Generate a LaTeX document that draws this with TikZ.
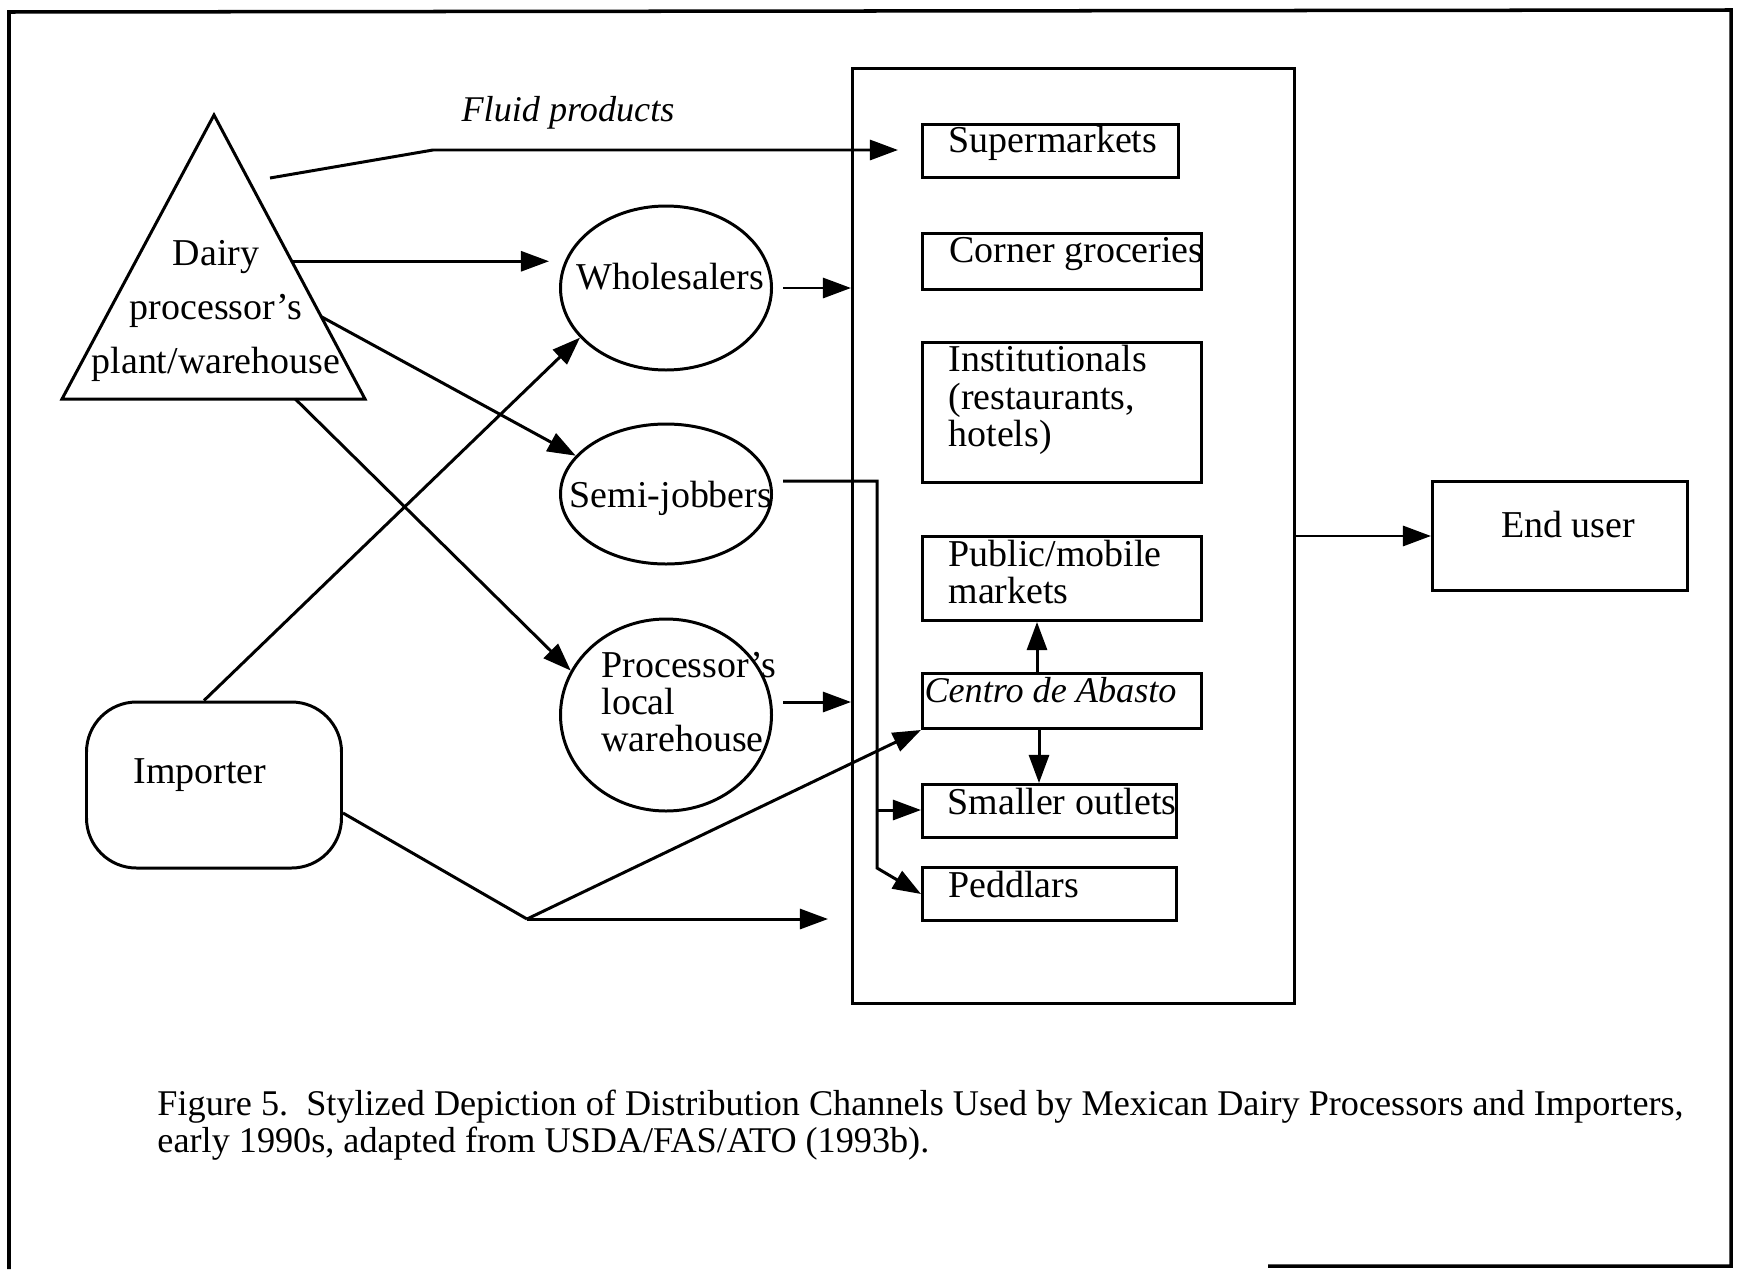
\documentclass[tikz,border=0pt]{standalone}
\usepackage{fontspec}
\setmainfont{Liberation Serif}
\usepackage{tikz}
\usetikzlibrary{shapes.geometric,calc,arrows.meta}
\newcommand{\lw}{0.85pt}
\newcommand{\fsz}{\fontsize{10.8}{10.6}\selectfont}
\newcommand{\fit}{\fontsize{10.3}{10.6}\selectfont\itshape}

\begin{document}
\begin{tikzpicture}[x=0.1mm,y=-0.1mm,line width=\lw,font=\fsz,
  box/.style={draw,rectangle,inner sep=0pt,anchor=north west},
  oval/.style={draw,ellipse,inner sep=0pt},
  txt/.style={inner sep=0pt,align=left},
  arr/.style={-{Triangle[length=8pt,width=5.7pt]}}]
\useasboundingbox (0,0) rectangle (1740,1269);
% outer frame
\draw[line width=1pt] (1268,1266) -- (1731,1266) -- (1731,10) -- (9,12) -- (9,1269);

% dairy plant
\coordinate (ap) at (214,115);
\coordinate (bl) at (62,399);
\coordinate (br) at (365,399);
\draw (ap) -- (br) -- (bl) -- cycle;
\node[txt,align=center,font=\fontsize{10.8}{15.4}\selectfont] (dairy) at (216,311) {Dairy\\processor's\\plant/warehouse};
\node[txt,font=\fit] (fluid) at (568,113) {Fluid products};

% middlemen
\node[oval,minimum width=21.1mm,minimum height=16.4mm] (whole) at (666,288) {};
\node[oval,minimum width=21.1mm,minimum height=14mm] (semi) at (666,494) {};
\node[oval,minimum width=21.1mm,minimum height=19.2mm] (proc) at (666,715) {};
\node[txt] (wholeT) at (670,277) {Wholesalers};
\node[txt] (semiT) at (671,498) {Semi-jobbers};
\node[txt,anchor=west] (procT) at (600,702) {Processor's\\local\\warehouse};

\node[draw,rounded corners=5mm,minimum width=25.5mm,minimum height=16.6mm,inner sep=0pt] (imp) at (214,785) {};
\node[txt] (impT) at (200,775) {Importer};

% retail outlets
\node[box,minimum width=44.2mm,minimum height=93.5mm] (market) at (851,67) {};
\node[box,minimum width=25.6mm,minimum height=5.3mm] (sup) at (921,123) {};
\node[box,minimum width=27.9mm,minimum height=5.6mm] (corner) at (921,232) {};
\node[box,minimum width=27.9mm,minimum height=14mm] (inst) at (921,341) {};
\node[box,minimum width=27.9mm,minimum height=8.4mm] (pub) at (921,535) {};
\node[box,minimum width=27.9mm,minimum height=5.5mm] (cent) at (921,672) {};
\node[box,minimum width=25.4mm,minimum height=5.3mm] (small) at (921,783) {};
\node[box,minimum width=25.4mm,minimum height=5.3mm] (pedd) at (921,866) {};
\node[box,minimum width=25.5mm,minimum height=10.9mm] (enduser) at (1431,480) {};

\node[txt,anchor=west] (supT) at (947,143) {Supermarkets};
\node[txt,anchor=west] (cornerT) at (948,254) {Corner groceries};
\node[txt,anchor=west] (instT) at (947,400) {Institutionals\\(restaurants,\\hotels)};
\node[txt,anchor=west] (pubT) at (947,572) {Public/mobile\\markets};
\node[txt,anchor=west,font=\fit] (centT) at (923,690) {Centro de Abasto};
\node[txt,anchor=west] (smallT) at (946,802) {Smaller outlets};
\node[txt,anchor=west] (peddT) at (947,885) {Peddlars};
\node[txt] (endT) at (1568,525) {End user};

% flows
\coordinate (fl0) at (270,178);
\coordinate (fl1) at (433,150);
\draw[arr,shorten >=2.3mm] (fl0) -- (fl1) -- (fl1 -| sup.west);
\coordinate (d1) at ($(ap)!0.515!(br)$);
\coordinate (d2) at ($(ap)!0.71!(br)$);
\coordinate (d3) at ($(bl)!0.77!(br)$);
\draw[arr,shorten >=1mm] (d1) -- (d1 -| whole.west);
\draw[arr] (d2) -- (semi.157);
\draw[arr] (d3) -- (proc.155);
\draw[arr] ([xshift=-1mm]imp.north) -- (whole.210);

\draw[arr,shorten <=1mm] (whole.east) -- (whole.east -| market.west);
\coordinate (p1) at ([yshift=1.3mm]proc.east);
\draw[arr,shorten <=1mm] (p1) -- (p1 -| market.west);

\coordinate (s0) at ([yshift=1.3mm]semi.east);
\coordinate (sj1) at (877,481);
\coordinate (sj2) at (877,868);
\coordinate (sj3) at (877,810);
\draw[arr,shorten <=1mm] (s0) -- (sj1) -- (sj2) -- (pedd.west);
\draw[arr] (sj3) -- (sj3 -| small.west);

\coordinate (i0) at ([yshift=-2.8mm]imp.east);
\coordinate (i1) at (527,919);
\draw (i0) -- (i1);
\draw[arr,shorten >=2.3mm] (i1) -- (i1 -| market.west);
\draw[arr] (i1) -- (cent.south west);

\draw[arr] ([xshift=-2.5mm]cent.north) -- ([xshift=-2.5mm]pub.south);
\coordinate (c1) at ([xshift=-2.3mm]cent.south);
\draw[arr] (c1) -- (c1 |- small.north);
\draw[arr] (market.east) -- (market.east -| enduser.west);

% caption
\node[txt,anchor=west,font=\fontsize{10.3}{10.5}\selectfont] (cap) at (156,1125) {Figure 5.\ \ Stylized Depiction of Distribution Channels Used by Mexican Dairy Processors and Importers,\\early 1990s, adapted from USDA/FAS/ATO (1993b).};
\end{tikzpicture}
\end{document}
